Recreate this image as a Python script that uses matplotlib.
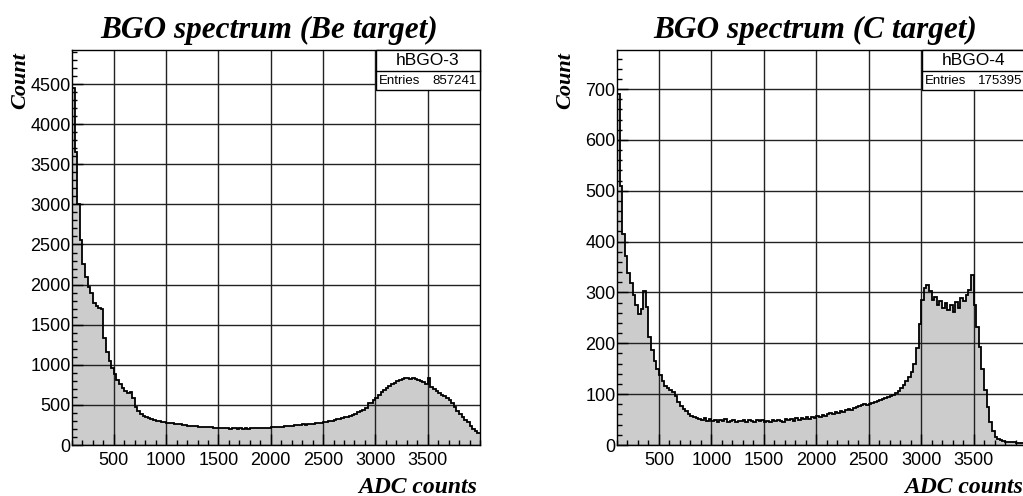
import numpy as np
import matplotlib
matplotlib.use("Agg")
import matplotlib.pyplot as plt
from matplotlib.patches import Rectangle
from matplotlib.ticker import MultipleLocator

# ---------------- data ----------------
bin_start = 100
bin_width = 25

be_counts = [
    4450, 3650, 3000, 2560, 2260, 2090, 1970, 1890,
    1770, 1730, 1710, 1690, 1330, 1160, 1050, 965,
    885, 815, 760, 705, 672, 648, 655, 585,
    480, 425, 388, 360, 345, 332, 326, 312,
    305, 296, 292, 283, 280, 272, 270, 261,
    259, 256, 249, 247, 240, 243, 234, 236,
    228, 230, 224, 226, 219, 221, 214, 217,
    209, 214, 207, 211, 205, 210, 206, 203,
    209, 204, 207, 202, 210, 206, 212, 209,
    215, 213, 218, 216, 222, 219, 226, 224,
    230, 234, 232, 239, 242, 246, 244, 252,
    256, 254, 262, 265, 268, 272, 276, 280,
    285, 290, 296, 303, 310, 318, 327, 336,
    344, 352, 362, 378, 392, 408, 425, 440,
    462, 520, 520, 555, 590, 625, 655, 690,
    715, 740, 760, 778, 795, 812, 820, 832,
    838, 828, 835, 818, 808, 795, 780, 765,
    840, 720, 695, 672, 648, 628, 615, 590,
    560, 520, 478, 430, 385, 345, 310, 285,
    240, 205, 175, 150,
]

c_counts = [
    690, 510, 415, 372, 338, 318, 296, 276,
    258, 268, 302, 272, 212, 186, 166, 150,
    138, 126, 116, 112, 108, 104, 97, 84,
    76, 70, 66, 61, 58, 56, 54, 52,
    50, 53, 48, 51, 47, 50, 46, 49,
    47, 51, 46, 48, 50, 45, 48, 47,
    49, 46, 50, 48, 45, 49, 47, 50,
    46, 48, 45, 49, 47, 50, 48, 46,
    51, 49, 52, 48, 53, 50, 54, 51,
    55, 52, 56, 54, 57, 55, 59, 57,
    60, 62, 61, 64, 63, 66, 65, 68,
    70, 69, 72, 74, 76, 78, 80, 79,
    80, 82, 84, 86, 88, 90, 92, 94,
    96, 99, 103, 107, 112, 118, 126, 134,
    143, 160, 190, 238, 285, 308, 315, 302,
    285, 292, 276, 284, 270, 280, 266, 275,
    262, 282, 270, 290, 284, 296, 305, 335,
    275, 232, 192, 150, 108, 74, 46, 28,
    16, 11, 9, 7, 6, 6, 5, 5,
    4, 4, 3, 3,
]

titles = ["BGO spectrum (Be target)", "BGO spectrum (C target)"]
hist_names = ["hBGO-3", "hBGO-4"]
entries = ["857241", "175395"]
x_label = "ADC counts"
y_label = "Count"
x_range = (100, 4000)
x_ticks = [500, 1000, 1500, 2000, 2500, 3000, 3500]
y_max = [4925, 777]
y_major = [500, 100]
y_minor = [100, 20]

# ---------------- figure ----------------
W, H = 1023, 496
fig = plt.figure(figsize=(W / 100, H / 100), dpi=100)

serif_bi = dict(family="Liberation Serif", weight="bold", style="italic")
sans = "Liberation Sans"

positions = [
    [72 / W, 1 - 445 / H, 408 / W, 395 / H],
    [617 / W, 1 - 445 / H, 409 / W, 395 / H],
]

for i, counts in enumerate([be_counts, c_counts]):
    ax = fig.add_axes(positions[i])
    vals = np.array(counts, dtype=float)
    edges = bin_start + bin_width * np.arange(len(vals) + 1)
    ax.stairs(vals, edges, fill=True, color="#cccccc", baseline=0, zorder=2)
    ax.stairs(vals, edges, color="black", linewidth=1.3, baseline=None, zorder=3)

    ax.set_xlim(*x_range)
    ax.set_ylim(0, y_max[i])
    ax.set_xticks(x_ticks)
    ax.xaxis.set_minor_locator(MultipleLocator(100))
    ax.yaxis.set_major_locator(MultipleLocator(y_major[i]))
    ax.yaxis.set_minor_locator(MultipleLocator(y_minor[i]))
    ax.grid(True, which="major", color="#222222", linewidth=1.0, zorder=1)
    ax.set_axisbelow(False)
    ax.tick_params(which="both", direction="in", top=False, right=False,
                   labelsize=13, colors="black")
    ax.tick_params(which="major", length=8, width=1)
    ax.tick_params(which="minor", length=3.8, width=1)
    ax.tick_params(axis="x", pad=5)
    ax.tick_params(axis="y", pad=1)
    for lab in ax.get_xticklabels() + ax.get_yticklabels():
        lab.set_family(sans)
    for s in ax.spines.values():
        s.set_linewidth(1.0)
        s.set_color("black")
        s.set_zorder(5)

    ax.set_title(titles[i], fontsize=22.5, x=0.484, y=1.0, pad=8.5, **serif_bi)
    ax.text(0.993, -0.1215, x_label, transform=ax.transAxes, ha="right",
            va="baseline", fontsize=17, **serif_bi)
    ax.text(-0.1275, 0.995, y_label, transform=ax.transAxes, ha="center",
            va="top", rotation=90, fontsize=16, **serif_bi)

    # stat box
    bw, bh = 104 / 408, 40 / 395
    sep = 21 / 395
    x0 = 1 - bw
    ax.add_patch(Rectangle((x0, 1 - bh), bw, bh, transform=ax.transAxes,
                           facecolor="white", edgecolor="black",
                           linewidth=1.0, zorder=10, clip_on=False))
    ax.plot([x0, 1], [1 - sep, 1 - sep], transform=ax.transAxes,
            color="black", linewidth=1.0, zorder=11, clip_on=False)
    ax.text(x0 + bw / 2, 1 - sep / 2, hist_names[i], transform=ax.transAxes,
            ha="center", va="center", fontsize=12.5, family=sans, zorder=12)
    ax.text(x0 + 0.008, 1 - sep - (bh - sep) / 2, "Entries",
            transform=ax.transAxes, ha="left", va="center", fontsize=9.5,
            family=sans, zorder=12)
    ax.text(1 - 0.008, 1 - sep - (bh - sep) / 2, entries[i],
            transform=ax.transAxes, ha="right", va="center", fontsize=9.5,
            family=sans, zorder=12)

fig.savefig("out.png", dpi=100)
